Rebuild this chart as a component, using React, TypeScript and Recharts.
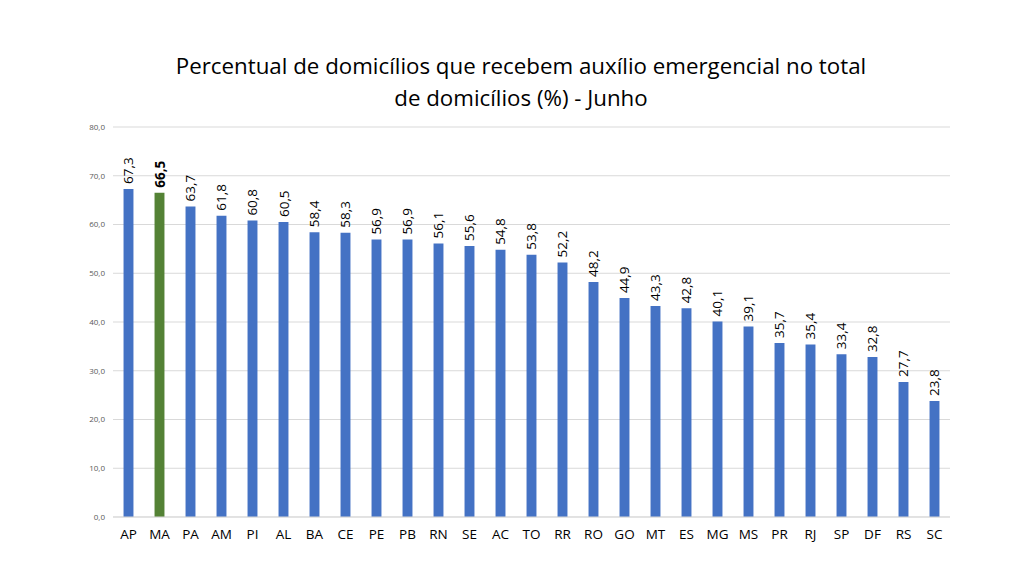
import React from "react";
import { BarChart, Bar, XAxis, YAxis, CartesianGrid, Cell, LabelList } from "recharts";

const categories = ["AP","MA","PA","AM","PI","AL","BA","CE","PE","PB","RN","SE","AC","TO","RR","RO","GO","MT","ES","MG","MS","PR","RJ","SP","DF","RS","SC"];
const values = [67.3,66.5,63.7,61.8,60.8,60.5,58.4,58.3,56.9,56.9,56.1,55.6,54.8,53.8,52.2,48.2,44.9,43.3,42.8,40.1,39.1,35.7,35.4,33.4,32.8,27.7,23.8];
const yTicks = [0,10,20,30,40,50,60,70,80];
const highlight = "MA";
const titleLines = ["Percentual de domicílios que recebem auxílio emergencial no total", "de domicílios (%) - Junho"];

const data = categories.map((c, i) => ({ uf: c, v: values[i] }));
const fmt = (n: number) => n.toFixed(1).replace(".", ",");

const ValueLabel = (props: any) => {
  const { x, y, width, value, index } = props;
  const cx = x + width / 2;
  const ty = y - 5;
  const bold = categories[index] === highlight;
  return (
    <text
      x={cx}
      y={ty}
      transform={`rotate(-90 ${cx} ${ty})`}
      textAnchor="start"
      dominantBaseline="central"
      fontSize={13.5}
      fontWeight={bold ? 700 : 400}
      fill="#000"
      fontFamily="'Open Sans', sans-serif"
    >
      {fmt(value)}
    </text>
  );
};

export default function App() {
  return (
    <div style={{ position: "absolute", left: 0, top: 0, width: 1024, height: 576, background: "#fff", fontFamily: "'Open Sans', sans-serif" }}>
      <div style={{ position: "absolute", left: 0, top: 50, width: 1042, textAlign: "center", fontSize: 22.3, lineHeight: "32px", color: "#000" }}>
        {titleLines.map((t, i) => <div key={i}>{t}</div>)}
      </div>
      <BarChart width={1024} height={576} data={data} margin={{ top: 127, right: 74, bottom: 29, left: 0 }} barCategoryGap="66%">
        <CartesianGrid vertical={false} stroke="#d9d9d9" />
        <XAxis
          dataKey="uf"
          axisLine={{ stroke: "#d9d9d9" }}
          tickLine={false}
          interval={0}
          tick={{ fontSize: 13.5, fill: "#000", fontFamily: "'Open Sans', sans-serif" }}
          tickMargin={6}
        />
        <YAxis
          width={113}
          domain={[0, 80]}
          ticks={yTicks}
          axisLine={false}
          tickLine={false}
          tickFormatter={(v: number) => fmt(v)}
          tick={{ fontSize: 8, fill: "#595959", fontFamily: "'Open Sans', sans-serif" }}
          tickMargin={2}
        />
        <Bar dataKey="v" isAnimationActive={false}>
          {data.map((d, i) => (
            <Cell key={i} fill={d.uf === highlight ? "#548235" : "#4472C4"} />
          ))}
          <LabelList dataKey="v" content={<ValueLabel />} />
        </Bar>
      </BarChart>
    </div>
  );
}
